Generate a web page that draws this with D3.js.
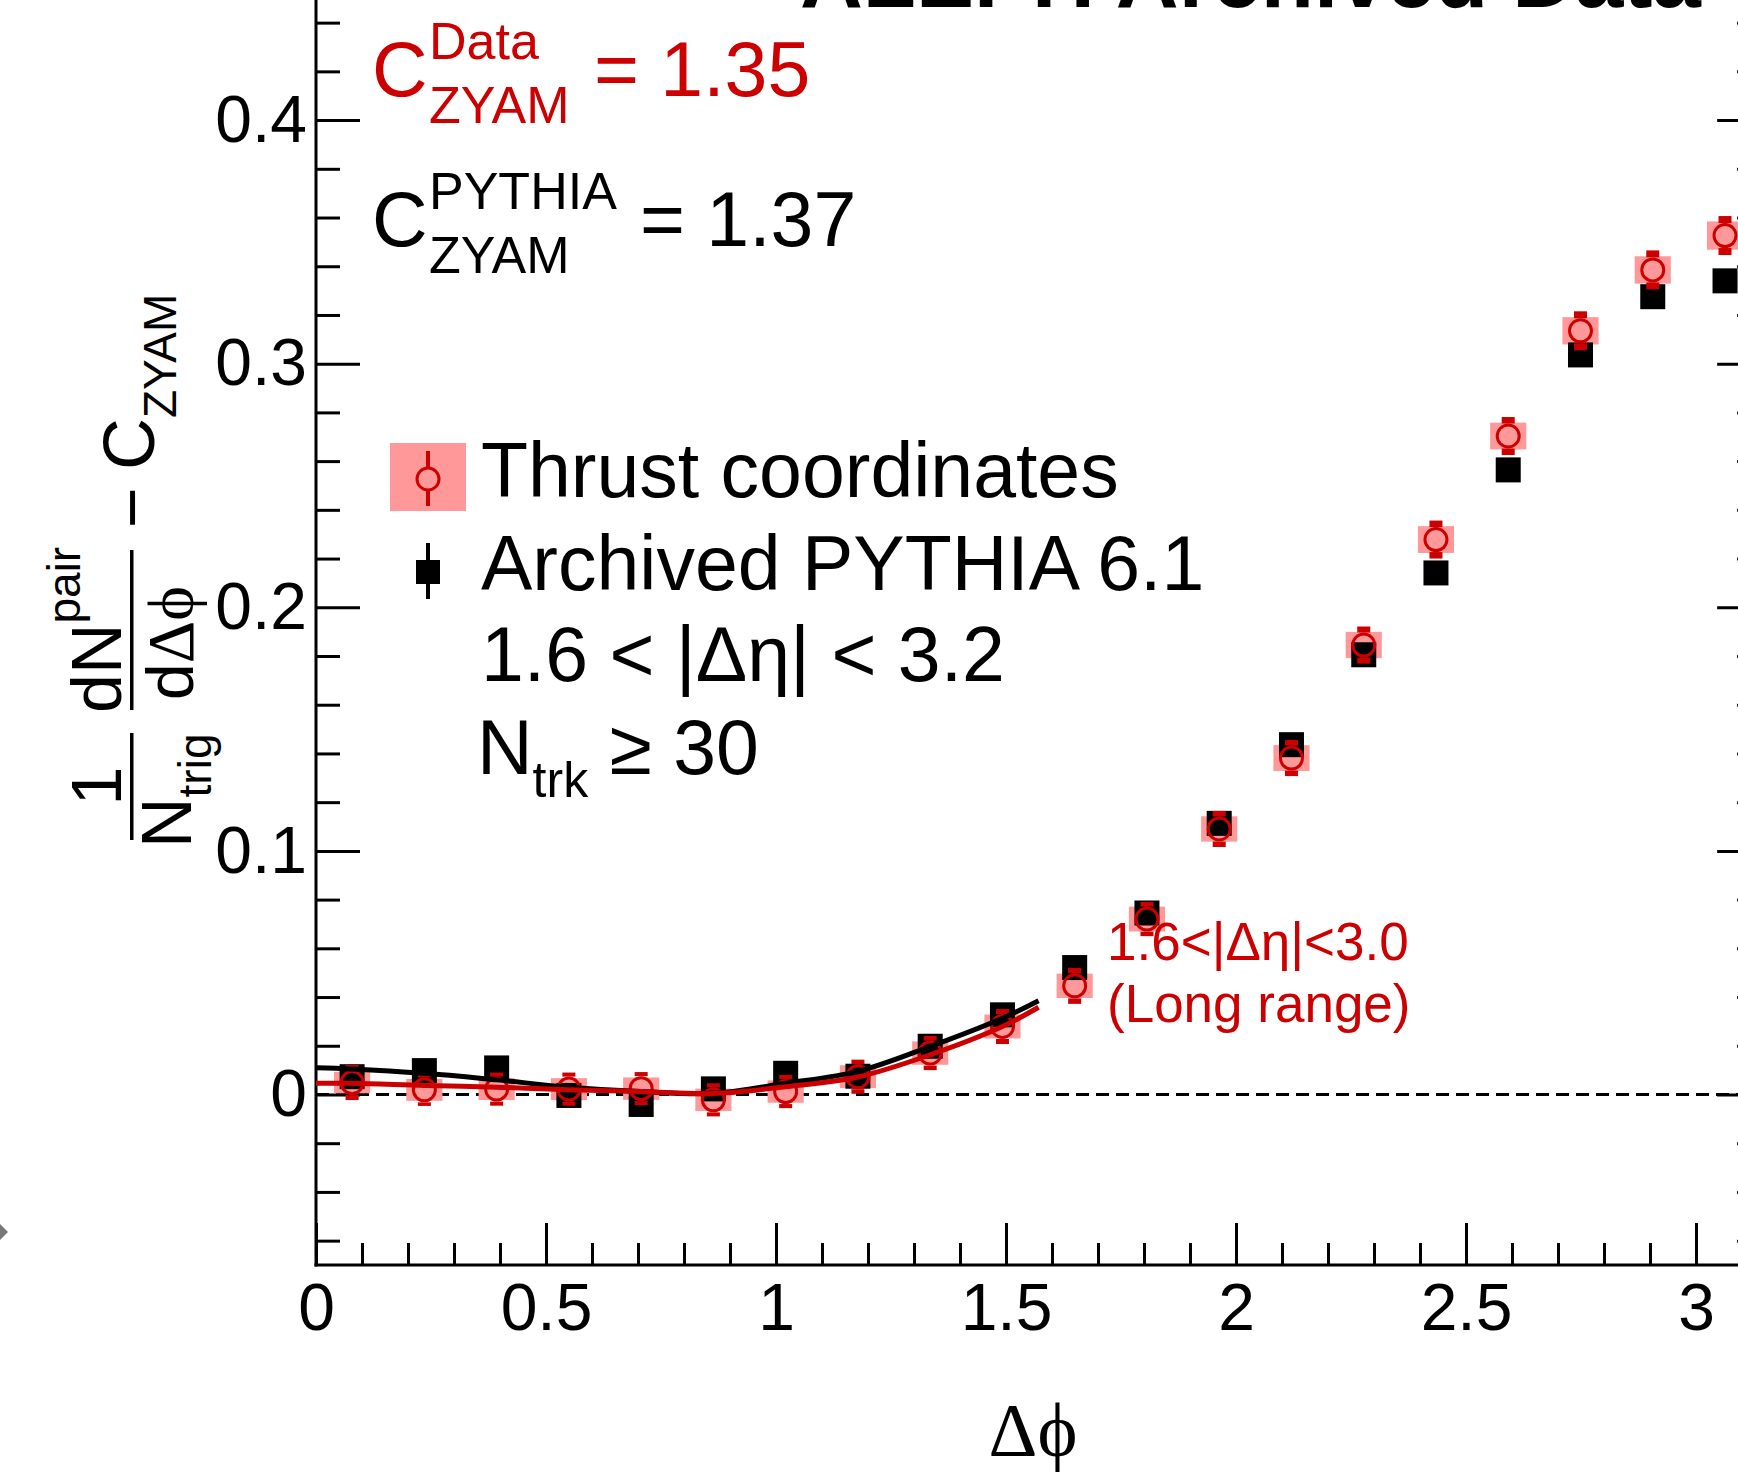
<!DOCTYPE html>
<html>
<head>
<meta charset="utf-8">
<script src="https://cdn.jsdelivr.net/npm/d3@7"></script>
<style>
  html, body { margin: 0; padding: 0; background: #fff; }
  svg { display: block; }
  text { font-family: "Liberation Sans", Arial, Helvetica, sans-serif; }
  .serif { font-family: "Liberation Serif", "DejaVu Serif", "Times New Roman", serif; }
</style>
</head>
<body>
<svg id="chart" width="1738" height="1475"></svg>
<script>
// Δφ bin centres (20 bins over 0..π)
const dphi = [0.0785, 0.2356, 0.3927, 0.5498, 0.7069, 0.8639, 1.0210, 1.1781, 1.3352, 1.4923,
              1.6493, 1.8064, 1.9635, 2.1206, 2.2777, 2.4347, 2.5918, 2.7489, 2.9060, 3.0631];

// ALEPH archived data, thrust-axis coordinates
const thrustValues = [0.0049, 0.0019, 0.0022, 0.0022, 0.0024, -0.0022, 0.0012, 0.0073, 0.0170, 0.0279,
                      0.0446, 0.0720, 0.1090, 0.1381, 0.1845, 0.2278, 0.2703, 0.3135, 0.3385, 0.3526];
const thrustStat = [0.0072, 0.0066, 0.0068, 0.0068, 0.0068, 0.0068, 0.0068, 0.0070, 0.0070, 0.0072,
                    0.0074, 0.0070, 0.0074, 0.0074, 0.0076, 0.0078, 0.0078, 0.0080, 0.0080, 0.0080];
const thrustSyst = [0.0044, 0.0045, 0.0045, 0.0045, 0.0046, 0.0046, 0.0046, 0.0047, 0.0048, 0.0049,
                    0.0050, 0.0051, 0.0052, 0.0053, 0.0054, 0.0055, 0.0055, 0.0056, 0.0056, 0.0058];

// Archived PYTHIA 6.1 MC
const pythiaValues = [0.0073, 0.0098, 0.0109, -0.0004, -0.0041, 0.0023, 0.0087, 0.0075, 0.0198, 0.0327,
                      0.0521, 0.0745, 0.1113, 0.1436, 0.1805, 0.2141, 0.2564, 0.3036, 0.3275, 0.3340];
const pythiaStat = [0.0030, 0.0030, 0.0030, 0.0030, 0.0030, 0.0030, 0.0030, 0.0030, 0.0030, 0.0030,
                    0.0032, 0.0032, 0.0032, 0.0034, 0.0034, 0.0034, 0.0036, 0.0036, 0.0036, 0.0038];

// Long-range fit curves, 0 < Δφ < π/2
const fitX      = [0, 0.0785, 0.2356, 0.3927, 0.5498, 0.7069, 0.8639, 1.0210, 1.1781, 1.3352, 1.4923, 1.5708];
const fitData   = [0.0046, 0.0046, 0.0037, 0.0030, 0.0019, 0.0012, 0.0004, 0.0032, 0.0072, 0.0163, 0.0279, 0.0358];
const fitPythia = [0.0110, 0.0105, 0.0087, 0.0060, 0.0030, 0.0012, 0.0005, 0.0046, 0.0095, 0.0197, 0.0313, 0.0385];

// Axis ticks
const xMajor = [0, 0.5, 1, 1.5, 2, 2.5, 3];
const xMinor = [0.1, 0.2, 0.3, 0.4, 0.6, 0.7, 0.8, 0.9, 1.1, 1.2, 1.3, 1.4, 1.6, 1.7, 1.8, 1.9,
                2.1, 2.2, 2.3, 2.4, 2.6, 2.7, 2.8, 2.9, 3.1];
const yMajor = [0, 0.1, 0.2, 0.3, 0.4];
const yMinor = [-0.06, -0.04, -0.02, 0.02, 0.04, 0.06, 0.08, 0.12, 0.14, 0.16, 0.18, 0.22, 0.24, 0.26, 0.28,
                0.32, 0.34, 0.36, 0.38, 0.42, 0.44, 0.46, 0.48];

const RED = "#cc0000";
const PINK = "#ff9999";
const FONT = 77;

const svg = d3.select("#chart");
const x = d3.scaleLinear().domain([0, Math.PI]).range([316, 316 + Math.PI * 460]);
const y = d3.scaleLinear().domain([-0.07, 0.5]).range([1265, 1265 - 0.57 * 2436]);
const binW = dphi[1] - dphi[0];

const thrust = dphi.map((d, i) => ({x: d, y: thrustValues[i], stat: thrustStat[i], syst: thrustSyst[i]}));
const pythia = dphi.map((d, i) => ({x: d, y: pythiaValues[i], stat: pythiaStat[i]}));

// Axes: ticks point inwards
function styleAxis(g) {
  g.select(".domain").remove();
  g.selectAll(".tick line").attr("stroke", "#000").attr("stroke-width", 3);
  g.selectAll(".tick text").attr("fill", "#000").style("font-size", "66px")
    .style("font-family", '"Liberation Sans", Arial, Helvetica, sans-serif');
}
const yFmt = d => d === 0 ? "0" : d3.format(".1f")(d);
svg.append("g").attr("transform", "translate(316,0)")
  .call(d3.axisLeft(y).tickValues(yMajor).tickSize(-44).tickPadding(9).tickFormat(yFmt)).call(styleAxis);
svg.append("g").attr("transform", "translate(316,0)")
  .call(d3.axisLeft(y).tickValues(yMinor).tickSize(-24).tickFormat("")).call(styleAxis);
svg.append("g").attr("transform", `translate(${x(Math.PI)},0)`)
  .call(d3.axisRight(y).tickValues(yMajor).tickSize(-44).tickFormat("")).call(styleAxis);
svg.append("g").attr("transform", `translate(${x(Math.PI)},0)`)
  .call(d3.axisRight(y).tickValues(yMinor).tickSize(-24).tickFormat("")).call(styleAxis);
svg.append("g").attr("transform", "translate(0,1265)")
  .call(d3.axisBottom(x).tickValues(xMajor).tickSize(-42).tickPadding(18).tickFormat(d3.format("~g"))).call(styleAxis);
svg.append("g").attr("transform", "translate(0,1265)")
  .call(d3.axisBottom(x).tickValues(xMinor).tickSize(-22).tickFormat("")).call(styleAxis);

// Frame
svg.append("line").attr("x1", 316).attr("x2", 316).attr("y1", y(0.5)).attr("y2", 1266.5)
  .attr("stroke", "#000").attr("stroke-width", 3);
svg.append("line").attr("x1", 314.5).attr("x2", x(Math.PI)).attr("y1", 1265).attr("y2", 1265)
  .attr("stroke", "#000").attr("stroke-width", 3);

// Zero reference
svg.append("line").attr("x1", x(0)).attr("x2", x(Math.PI)).attr("y1", y(0)).attr("y2", y(0))
  .attr("stroke", "#000").attr("stroke-width", 3.2).attr("stroke-dasharray", "13,7");

// Systematic boxes
svg.append("g").selectAll("rect").data(thrust).join("rect")
  .attr("x", d => x(d.x - binW / 4)).attr("width", d => x(d.x + binW / 4) - x(d.x - binW / 4))
  .attr("y", d => y(d.y + d.syst)).attr("height", d => y(d.y - d.syst) - y(d.y + d.syst))
  .attr("fill", PINK);

// PYTHIA markers
const pg = svg.append("g");
pg.selectAll("line").data(pythia).join("line")
  .attr("x1", d => x(d.x)).attr("x2", d => x(d.x))
  .attr("y1", d => y(d.y + d.stat)).attr("y2", d => y(d.y - d.stat))
  .attr("stroke", "#000").attr("stroke-width", 4);
pg.selectAll("rect").data(pythia).join("rect")
  .attr("x", d => x(d.x) - 12.5).attr("y", d => y(d.y) - 12.5)
  .attr("width", 25).attr("height", 25).attr("fill", "#000");

// Thrust-coordinate markers: error bars outside the open circle
const R = 12.5;
const tg = svg.append("g");
tg.selectAll("rect.up").data(thrust).join("rect").attr("class", "up")
  .attr("x", d => x(d.x) - 6.5).attr("width", 13)
  .attr("y", d => y(d.y + d.stat)).attr("height", d => Math.max(0, y(d.y) - R - y(d.y + d.stat)))
  .attr("fill", RED);
tg.selectAll("rect.dn").data(thrust).join("rect").attr("class", "dn")
  .attr("x", d => x(d.x) - 6.5).attr("width", 13)
  .attr("y", d => y(d.y) + R).attr("height", d => Math.max(0, y(d.y - d.stat) - y(d.y) - R))
  .attr("fill", RED);
tg.selectAll("circle").data(thrust).join("circle")
  .attr("cx", d => x(d.x)).attr("cy", d => y(d.y)).attr("r", R - 1.5)
  .attr("fill", "none").attr("stroke", RED).attr("stroke-width", 3);

// Fit curves
const fitLine = d3.line().x(d => x(d[0])).y(d => y(d[1])).curve(d3.curveCatmullRom);
svg.append("path").datum(fitX.map((v, i) => [v, fitPythia[i]])).attr("d", fitLine)
  .attr("fill", "none").attr("stroke", "#000").attr("stroke-width", 5);
svg.append("path").datum(fitX.map((v, i) => [v, fitData[i]])).attr("d", fitLine)
  .attr("fill", "none").attr("stroke", RED).attr("stroke-width", 5);

// Title (runs off the top edge)
svg.append("text").attr("x", 800).attr("y", 7).attr("font-weight", "bold")
  .style("font-size", "87px").text("ALEPH Archived Data");

// ZYAM constants
function zyam(sup, value, color, base, eqX) {
  const g = svg.append("g").attr("fill", color);
  g.append("text").attr("x", 372).attr("y", base).style("font-size", FONT + "px").text("C");
  g.append("text").attr("x", 429).attr("y", base - 37).style("font-size", "52px").text(sup);
  g.append("text").attr("x", 429).attr("y", base + 26.5).style("font-size", "52px").text("ZYAM");
  g.append("text").attr("x", eqX).attr("y", base).style("font-size", FONT + "px").text("= " + value);
}
zyam("Data", "1.35", RED, 96, 594);
zyam("PYTHIA", "1.37", "#000", 246, 640);

// Legend
svg.append("rect").attr("x", 390).attr("y", 443).attr("width", 76).attr("height", 68).attr("fill", PINK);
svg.append("line").attr("x1", 428).attr("x2", 428).attr("y1", 451).attr("y2", 467.5)
  .attr("stroke", RED).attr("stroke-width", 4);
svg.append("line").attr("x1", 428).attr("x2", 428).attr("y1", 490.5).attr("y2", 506)
  .attr("stroke", RED).attr("stroke-width", 4);
svg.append("circle").attr("cx", 428).attr("cy", 479).attr("r", 11)
  .attr("fill", "none").attr("stroke", RED).attr("stroke-width", 3);
svg.append("line").attr("x1", 428).attr("x2", 428).attr("y1", 543).attr("y2", 599)
  .attr("stroke", "#000").attr("stroke-width", 4);
svg.append("rect").attr("x", 416).attr("y", 560).attr("width", 24).attr("height", 24).attr("fill", "#000");

const legendLines = [
  {y: 497, text: "Thrust coordinates"},
  {y: 590, text: "Archived PYTHIA 6.1"},
  {y: 681, text: "1.6 < |Δη| < 3.2"},
];
legendLines.forEach(l => {
  svg.append("text").attr("x", 481).attr("y", l.y).style("font-size", FONT + "px").text(l.text);
});
const ntrk = svg.append("text").attr("x", 477).attr("y", 774).style("font-size", FONT + "px");
ntrk.append("tspan").text("N");
ntrk.append("tspan").attr("dy", 23).style("font-size", "50px").text("trk");
ntrk.append("tspan").attr("dy", -23).text(" ≥ 30");

// Long-range annotation
svg.append("text").attr("x", 1107).attr("y", 960).attr("fill", RED).style("font-size", "53px").text("1.6<|Δη|<3.0");
svg.append("text").attr("x", 1107).attr("y", 1022).attr("fill", RED).style("font-size", "53px").text("(Long range)");

// X-axis title
svg.append("text").attr("class", "serif").attr("x", 1033).attr("y", 1456).attr("text-anchor", "middle")
  .style("font-size", "76px").text("Δϕ");

// Y-axis title, rotated: text-x = -screenY, text-y = screenX
const yt = svg.append("g").attr("transform", "rotate(-90)");
yt.append("text").attr("x", -786).attr("y", 121).attr("text-anchor", "middle").style("font-size", "70px").text("1");
const nt = yt.append("text").attr("x", -848).attr("y", 191).style("font-size", "70px");
nt.append("tspan").text("N");
nt.append("tspan").attr("y", 211).style("font-size", "46px").text("trig");
const dn = yt.append("text").attr("x", -713).attr("y", 121).style("font-size", "70px");
dn.append("tspan").text("dN");
dn.append("tspan").attr("y", 80).style("font-size", "46px").text("pair");
const dd = yt.append("text").attr("x", -700).attr("y", 193).style("font-size", "66px");
dd.append("tspan").text("d");
dd.append("tspan").attr("class", "serif").text("Δϕ");
yt.append("text").attr("x", -528).attr("y", 156).style("font-size", "70px").text("−");
yt.append("text").attr("x", -470).attr("y", 154).style("font-size", "72px").text("C");
yt.append("text").attr("x", -418).attr("y", 176).style("font-size", "46px").text("ZYAM");
// fraction bars
svg.append("rect").attr("x", 130).attr("y", 733).attr("width", 3.5).attr("height", 107).attr("fill", "#000");
svg.append("rect").attr("x", 130).attr("y", 550).attr("width", 3.5).attr("height", 160).attr("fill", "#000");

// small grey marker at the left edge
svg.append("path").attr("d", "M0,1224L8,1232L0,1240Z").attr("fill", "#777");
</script>
</body>
</html>
